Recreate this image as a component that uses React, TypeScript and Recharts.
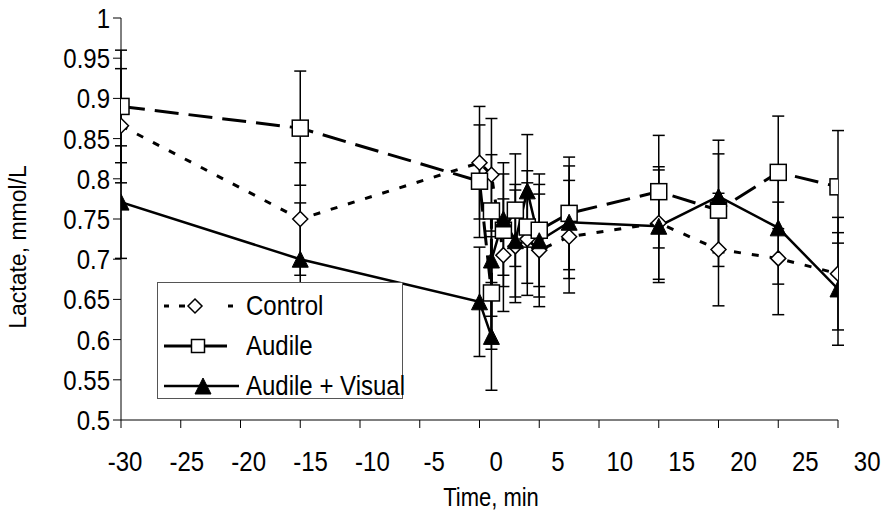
import { ComposedChart, Line, XAxis, YAxis, ErrorBar } from 'recharts';

// time points (min) and lactate means / SD per group
const controlTime = [-30, -15, 0, 1, 2, 3, 4, 5, 7.5, 15, 20, 25, 30];
const controlMean = [0.866, 0.75, 0.82, 0.805, 0.705, 0.716, 0.725, 0.711, 0.728, 0.745, 0.712, 0.701, 0.682];
const controlErr = [0.071, 0.07, 0.07, 0.07, 0.07, 0.07, 0.07, 0.07, 0.07, 0.07, 0.07, 0.07, 0.07];

const audileTime = [-30, -15, 0, 1, 1, 2, 3, 4, 5, 7.5, 15, 20, 25, 30];
const audileMean = [0.89, 0.863, 0.797, 0.658, 0.76, 0.736, 0.761, 0.74, 0.736, 0.757, 0.784, 0.761, 0.808, 0.79];
const audileErr = [0.07, 0.071, 0.07, 0.07, 0.07, 0.07, 0.07, 0.07, 0.07, 0.07, 0.07, 0.07, 0.07, 0.07];

const avTime = [-30, -15, 0, 1, 1, 2, 3, 4, 5, 7.5, 15, 20, 25, 30];
const avMean = [0.771, 0.7, 0.647, 0.604, 0.699, 0.75, 0.723, 0.785, 0.723, 0.746, 0.741, 0.778, 0.739, 0.663];
const avErr = [0.07, 0.07, 0.068, 0.067, 0.07, 0.07, 0.07, 0.07, 0.07, 0.07, 0.07, 0.07, 0.07, 0.07];

const xTicks = [-30, -25, -20, -15, -10, -5, 0, 5, 10, 15, 20, 25, 30];
const yTicks = [0.5, 0.55, 0.6, 0.65, 0.7, 0.75, 0.8, 0.85, 0.9, 0.95, 1];

const toRows = (t: number[], m: number[], e: number[]) =>
  t.map((x, i) => ({ t: x, v: m[i], e: e[i] }));

const controlData = toRows(controlTime, controlMean, controlErr);
const audileData = toRows(audileTime, audileMean, audileErr);
const avData = toRows(avTime, avMean, avErr);

const FONT = "'Liberation Sans', Arial, sans-serif";
const STRETCH = 1.17; // the original text is a bit taller than Arial

const stretchY = (cy: number) => `translate(0 ${cy}) scale(1 ${STRETCH}) translate(0 ${-cy})`;

const Diamond = ({ cx, cy, r = 7.5 }: { cx: number; cy: number; r?: number }) => (
  <polygon
    points={`${cx},${cy - r} ${cx + r},${cy} ${cx},${cy + r} ${cx - r},${cy}`}
    fill="#fff"
    stroke="#000"
    strokeWidth={1.5}
  />
);

const Square = ({ cx, cy, s = 8 }: { cx: number; cy: number; s?: number }) => (
  <rect x={cx - s} y={cy - s} width={s * 2} height={s * 2} fill="#fff" stroke="#000" strokeWidth={1.5} />
);

const Triangle = ({ cx, cy, s = 8 }: { cx: number; cy: number; s?: number }) => (
  <polygon points={`${cx},${cy - s} ${cx + s},${cy + s} ${cx - s},${cy + s}`} fill="#000" stroke="#000" strokeWidth={1} />
);

const dotFn = (Shape: any, tag: string) => (p: any) => {
  if (p.cx == null || p.cy == null) return <g key={`${tag}-${p.index}`} />;
  return (
    <g key={`${tag}-${p.index}`}>
      <Shape cx={p.cx} cy={p.cy} />
    </g>
  );
};

// excel placed labels slightly right of their ticks, drifting further right
const XTick = (props: any) => {
  const { x, y, payload, index } = props;
  return (
    <text
      x={x + 4 + index * 2.1}
      y={y}
      dy="0.71em"
      textAnchor="middle"
      fill="#000"
      fontSize={24}
      fontFamily={FONT}
      transform={stretchY(y + 9)}
    >
      {payload.value}
    </text>
  );
};

const YTick = (props: any) => {
  const { x, y, payload } = props;
  return (
    <text x={x} y={y} dy="0.355em" textAnchor="end" fill="#000" fontSize={24} fontFamily={FONT} transform={stretchY(y)}>
      {String(payload.value)}
    </text>
  );
};

const XTitle = () => (
  <text x={491} y={505} textAnchor="middle" fill="#000" fontSize={22} fontFamily={FONT} transform={stretchY(497)}>
    Time, min
  </text>
);

const YTitle = () => (
  <text
    x={18}
    y={247}
    transform="rotate(-90, 18, 247)"
    textAnchor="middle"
    dy="0.35em"
    fill="#000"
    fontSize={23}
    fontFamily={FONT}
  >
    Lactate, mmol/L
  </text>
);

const legendNames = ['Control', 'Audile', 'Audile + Visual'];

function LegendSample({ i }: { i: number }) {
  if (i === 0) {
    return (
      <g stroke="#000" strokeWidth={3}>
        <line x1={6} y1={20} x2={11} y2={20} />
        <line x1={21} y1={20} x2={27} y2={20} />
        <Diamond cx={37} cy={20} r={7} />
        <line x1={70} y1={20} x2={75} y2={20} />
      </g>
    );
  }
  if (i === 1) {
    return (
      <g stroke="#000" strokeWidth={3}>
        <line x1={6} y1={20} x2={33} y2={20} />
        <line x1={46} y1={20} x2={69} y2={20} />
        <Square cx={40} cy={20} s={6.5} />
      </g>
    );
  }
  return (
    <g stroke="#000" strokeWidth={2.5}>
      <line x1={6} y1={20} x2={81} y2={20} />
      <Triangle cx={45} cy={20} s={8} />
    </g>
  );
}

function LegendBox() {
  return (
    <div
      style={{
        position: 'absolute',
        left: 157,
        top: 282,
        width: 246,
        height: 117,
        border: '1px solid #555',
        background: '#fff',
        boxSizing: 'border-box',
        fontFamily: FONT,
      }}
    >
      {legendNames.map((name, i) => (
        <div key={name} style={{ position: 'absolute', left: 0, top: 3 + i * 40, width: 244, height: 40 }}>
          <svg width={90} height={40} style={{ position: 'absolute', left: 0, top: 0 }}>
            <LegendSample i={i} />
          </svg>
          <span
            style={{
              position: 'absolute',
              left: 88,
              top: 6,
              fontSize: 24,
              lineHeight: '28px',
              color: '#000',
              whiteSpace: 'nowrap',
              transform: `scaleY(${STRETCH})`,
              transformOrigin: '0 50%',
            }}
          >
            {name}
          </span>
        </div>
      ))}
    </div>
  );
}

export default function App() {
  return (
    <div style={{ position: 'absolute', left: 0, top: 0, width: 884, height: 514, background: '#fff', fontFamily: FONT }}>
      <ComposedChart width={884} height={514} margin={{ top: 18, right: 46, bottom: 0, left: 0 }}>
        <XAxis
          dataKey="t"
          type="number"
          domain={[-30, 30]}
          ticks={xTicks}
          allowDataOverflow
          height={94}
          stroke="#000"
          tickSize={8}
          tickMargin={25}
          tick={<XTick />}
          label={<XTitle />}
        />
        <YAxis
          type="number"
          domain={[0.5, 1]}
          ticks={yTicks}
          allowDataOverflow
          width={121}
          stroke="#000"
          tickSize={8}
          tickMargin={3}
          tick={<YTick />}
          label={<YTitle />}
        />
        <Line
          data={controlData}
          dataKey="v"
          type="linear"
          stroke="#000"
          strokeWidth={3}
          strokeDasharray="7 11"
          dot={dotFn(Diamond, 'c')}
          activeDot={false}
          isAnimationActive={false}
        >
          <ErrorBar dataKey="e" direction="y" width={6} stroke="#000" strokeWidth={1.5} />
        </Line>
        <Line
          data={audileData}
          dataKey="v"
          type="linear"
          stroke="#000"
          strokeWidth={3}
          strokeDasharray="24 10"
          dot={dotFn(Square, 'a')}
          activeDot={false}
          isAnimationActive={false}
        >
          <ErrorBar dataKey="e" direction="y" width={6} stroke="#000" strokeWidth={1.5} />
        </Line>
        <Line
          data={avData}
          dataKey="v"
          type="linear"
          stroke="#000"
          strokeWidth={2.5}
          dot={dotFn(Triangle, 'v')}
          activeDot={false}
          isAnimationActive={false}
        >
          <ErrorBar dataKey="e" direction="y" width={6} stroke="#000" strokeWidth={1.5} />
        </Line>
      </ComposedChart>
      <LegendBox />
    </div>
  );
}
